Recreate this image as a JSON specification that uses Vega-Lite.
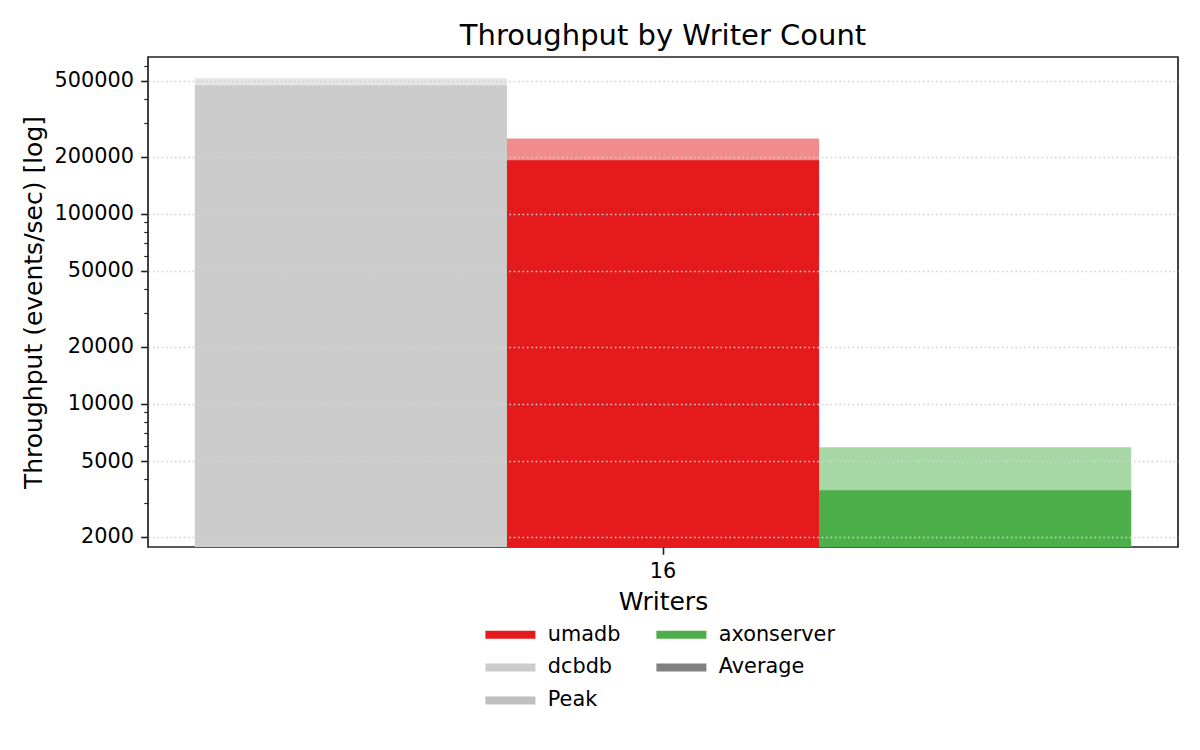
{
  "$schema": "https://vega.github.io/schema/vega-lite/v6.json",
  "autosize": {"type": "none"},
  "width": 1030,
  "height": 490,
  "padding": {"left": 148, "top": 57, "right": 22, "bottom": 203},
  "background": "white",
  "title": {
    "text": "Throughput by Writer Count",
    "font": "DejaVu Sans",
    "fontSize": 29,
    "fontWeight": "normal",
    "color": "black",
    "anchor": "middle",
    "frame": "group",
    "offset": 6
  },
  "config": {
    "font": "DejaVu Sans",
    "view": {"stroke": "#222222", "strokeWidth": 1.7},
    "axis": {
      "labelFont": "DejaVu Sans",
      "labelFontSize": 20.8,
      "labelColor": "black",
      "titleFont": "DejaVu Sans",
      "titleFontSize": 25,
      "titleFontWeight": "normal",
      "titleColor": "black",
      "tickColor": "#222222",
      "tickWidth": 1.6,
      "tickSize": 7.3,
      "labelPadding": 7.3,
      "domain": false
    }
  },
  "data": {
    "values": [
      {"writers": "16", "series": "dcbdb", "stat": "Peak", "throughput": 516000},
      {"writers": "16", "series": "dcbdb", "stat": "Average", "throughput": 474000},
      {"writers": "16", "series": "umadb", "stat": "Peak", "throughput": 249000},
      {"writers": "16", "series": "umadb", "stat": "Average", "throughput": 191000},
      {"writers": "16", "series": "axonserver", "stat": "Peak", "throughput": 5900},
      {"writers": "16", "series": "axonserver", "stat": "Average", "throughput": 3505}
    ]
  },
  "encoding": {
    "x": {
      "field": "writers",
      "type": "nominal",
      "title": "Writers",
      "scale": {"paddingInner": 0, "paddingOuter": 0.05},
      "axis": {"labelAngle": 0, "grid": false, "titlePadding": 8}
    },
    "xOffset": {
      "field": "series",
      "type": "nominal",
      "sort": ["dcbdb", "umadb", "axonserver"],
      "scale": {"paddingInner": 0, "paddingOuter": 0}
    },
    "y": {
      "field": "throughput",
      "type": "quantitative",
      "title": "Throughput (events/sec) [log]",
      "scale": {"type": "log", "domain": [1764, 668000], "nice": false},
      "axis": {
        "values": [2000, 3000, 4000, 5000, 6000, 7000, 8000, 9000, 10000, 20000, 30000, 40000, 50000, 60000, 70000, 80000, 90000, 100000, 200000, 300000, 400000, 500000, 600000],
        "format": "d",
        "labelExpr": "indexof([2000, 5000, 10000, 20000, 50000, 100000, 200000, 500000], datum.value) >= 0 ? datum.label : ''",
        "tickSize": {"condition": {"test": "indexof([2000, 5000, 10000, 20000, 50000, 100000, 200000, 500000], datum.value) >= 0", "value": 7.3}, "value": 4.2},
        "tickWidth": {"condition": {"test": "indexof([2000, 5000, 10000, 20000, 50000, 100000, 200000, 500000], datum.value) >= 0", "value": 1.6}, "value": 1.2},
        "grid": true,
        "gridColor": "#d2d2d2",
        "gridDash": [1.6, 2.8],
        "gridWidth": 1.6,
        "gridOpacity": {"condition": {"test": "indexof([2000, 5000, 10000, 20000, 50000, 100000, 200000, 500000], datum.value) >= 0", "value": 1}, "value": 0},
        "zindex": 1,
        "titlePadding": 8
      }
    },
    "y2": {"datum": 1764},
    "color": {
      "field": "series",
      "type": "nominal",
      "scale": {
        "domain": ["umadb", "axonserver", "dcbdb", "Average", "Peak"],
        "range": ["#e41a1c", "#4daf4a", "#cccccc", "#808080", "#bfbfbf"]
      },
      "legend": {
        "title": null,
        "orient": "none",
        "legendX": 352,
        "legendY": 567,
        "columns": 2,
        "direction": "horizontal",
        "padding": 0,
        "columnPadding": 35,
        "rowPadding": 11,
        "symbolType": "M-5,-0.8H5V0.8H-5Z",
        "symbolSize": 100,
        "symbolStrokeWidth": 0,
        "symbolOpacity": 1,
        "labelFont": "DejaVu Sans",
        "labelFontSize": 20.8,
        "labelColor": "black",
        "labelOffset": 27,
        "encode": {
          "symbols": {
            "update": {
              "fill": {"scale": "color", "field": "value"},
              "opacity": {"value": 1},
              "fillOpacity": {"value": 1}
            }
          }
        }
      }
    }
  },
  "layer": [
    {
      "transform": [{"filter": "datum.stat === 'Peak'"}],
      "mark": {"type": "bar", "opacity": 0.5}
    },
    {
      "transform": [{"filter": "datum.stat === 'Average'"}],
      "mark": {"type": "bar", "opacity": 1}
    }
  ]
}
